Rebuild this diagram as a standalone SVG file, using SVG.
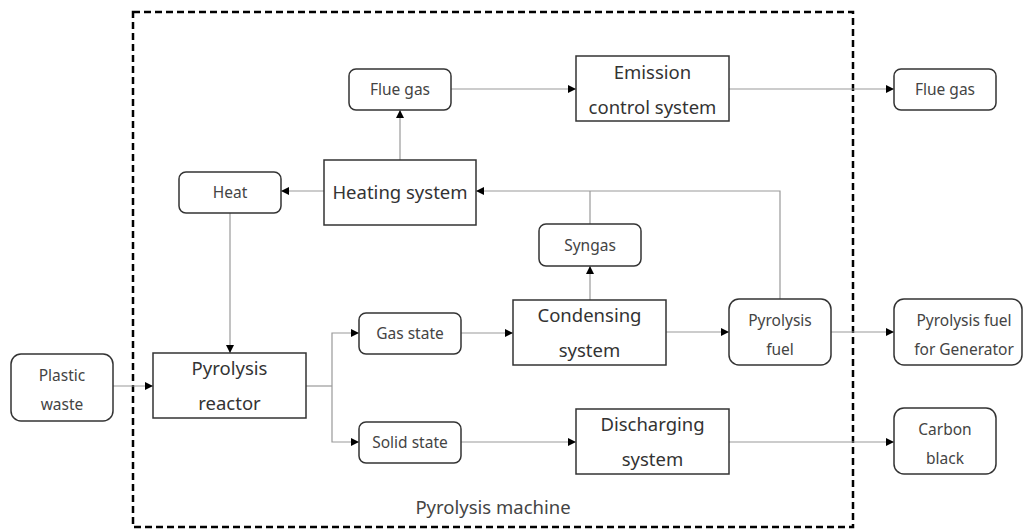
<svg xmlns="http://www.w3.org/2000/svg" width="1029" height="532" viewBox="0 0 1029 532">
<style>
.r{fill:#fff;stroke:#333;stroke-width:1.5}
.s{font-family:"Noto Sans","Open Sans",sans-serif;font-size:15.5px;fill:#444;text-anchor:middle;dominant-baseline:central}
.b{font-family:"Noto Sans","Open Sans",sans-serif;font-size:18.5px;fill:#333;text-anchor:middle;dominant-baseline:central}
.c{fill:none;stroke:#999;stroke-width:1.2}
.a{marker-end:url(#ah)}
</style>
<defs>
<marker id="ah" viewBox="0 0 10 10" refX="10" refY="5" markerWidth="8" markerHeight="8" markerUnits="userSpaceOnUse" orient="auto">
<path d="M0,0L10,5L0,10z" fill="#000"/>
</marker>
</defs>
<rect id="machine" x="133" y="12" width="720" height="515" fill="none" stroke="#000" stroke-width="2.5" stroke-dasharray="7,4"/>
<g id="connectors">
<path class="c a" d="M113,386H153"/>
<path class="c a" d="M230,213V353"/>
<path class="c" d="M306,386H332"/>
<path class="c a" d="M332,386V333H359"/>
<path class="c a" d="M332,386V442H359"/>
<path class="c a" d="M461,333H513"/>
<path class="c a" d="M461,442H576"/>
<path class="c a" d="M590,300V266"/>
<path class="c a" d="M666,332H729"/>
<path class="c a" d="M831,332H894"/>
<path class="c a" d="M729,442H894"/>
<path class="c" d="M590,224V191"/>
<path class="c a" d="M780,299V191H476"/>
<path class="c a" d="M324,191H281"/>
<path class="c a" d="M400,160V110"/>
<path class="c a" d="M451,89H576"/>
<path class="c a" d="M729,89H894"/>
</g>
<g id="flue-gas-in"><rect class="r" x="349" y="69" width="102" height="41" rx="7"/><text class="s" x="400" y="89">Flue gas</text></g>
<g id="emission"><rect class="r" x="576" y="56" width="153" height="65"/><text class="b" x="652.5" y="71">Emission</text><text class="b" x="652.5" y="106">control system</text></g>
<g id="flue-gas-out"><rect class="r" x="894" y="69" width="102" height="41" rx="7"/><text class="s" x="945" y="89">Flue gas</text></g>
<g id="heat"><rect class="r" x="179" y="172" width="102" height="41" rx="7"/><text class="s" x="230" y="192">Heat</text></g>
<g id="heating"><rect class="r" x="324" y="160" width="152" height="65"/><text class="b" x="400" y="191">Heating system</text></g>
<g id="syngas"><rect class="r" x="539" y="224" width="102" height="42" rx="7"/><text class="s" x="590" y="245">Syngas</text></g>
<g id="plastic"><rect class="r" x="11" y="354" width="102" height="67" rx="10"/><text class="s" x="62" y="375">Plastic</text><text class="s" x="62" y="404">waste</text></g>
<g id="reactor"><rect class="r" x="153" y="353" width="153" height="65"/><text class="b" x="229.5" y="367">Pyrolysis</text><text class="b" x="229.5" y="402">reactor</text></g>
<g id="gas"><rect class="r" x="359" y="313" width="102" height="41" rx="7"/><text class="s" x="410" y="333">Gas state</text></g>
<g id="solid"><rect class="r" x="359" y="422" width="102" height="41" rx="7"/><text class="s" x="410" y="442">Solid state</text></g>
<g id="condensing"><rect class="r" x="513" y="300" width="153" height="65"/><text class="b" x="589.5" y="314">Condensing</text><text class="b" x="589.5" y="349">system</text></g>
<g id="fuel"><rect class="r" x="729" y="299" width="102" height="66" rx="10"/><text class="s" x="780" y="320">Pyrolysis</text><text class="s" x="780" y="349">fuel</text></g>
<g id="generator"><rect class="r" x="894" y="299" width="128" height="66" rx="10"/><text class="s" x="964" y="320">Pyrolysis fuel</text><text class="s" x="964" y="349">for Generator</text></g>
<g id="discharging"><rect class="r" x="576" y="409" width="153" height="65"/><text class="b" x="652.5" y="423">Discharging</text><text class="b" x="652.5" y="458">system</text></g>
<g id="carbon"><rect class="r" x="894" y="408" width="102" height="66" rx="10"/><text class="s" x="945" y="429">Carbon</text><text class="s" x="945" y="458">black</text></g>
<text class="s" x="493" y="506" style="font-size:18.5px">Pyrolysis machine</text>
</svg>
